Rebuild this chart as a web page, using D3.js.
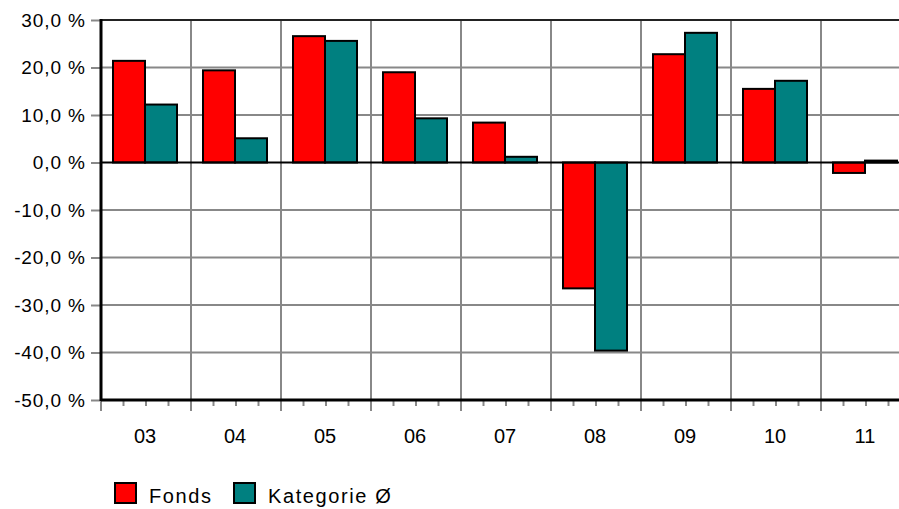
<!DOCTYPE html>
<html>
<head>
<meta charset="utf-8">
<script src="https://cdn.jsdelivr.net/npm/d3@7"></script>
<style>
html,body{margin:0;padding:0;background:#fff;}
svg{display:block;}
text{font-family:"Liberation Sans",Arial,sans-serif;fill:#000;}
</style>
</head>
<body>
<svg id="chart" width="899" height="509"></svg>
<script>
const categories = ["03","04","05","06","07","08","09","10","11"];
const fonds = [21.4, 19.4, 26.6, 19.0, 8.4, -26.5, 22.8, 15.5, -2.2];
const kategorie = [12.2, 5.1, 25.6, 9.3, 1.2, -39.6, 27.3, 17.2, 0.4];
const seriesNames = ["Fonds", "Kategorie Ø"];
const seriesColors = ["#ff0000", "#008080"];
const yTicks = [-50, -40, -30, -20, -10, 0, 10, 20, 30];

(function () {
const svg = d3.select("#chart");
const left = 101, plotTop = 20, bottom = 400, bandW = 90;

const x = d3.scaleBand().domain(categories).range([left, left + bandW * categories.length]).padding(0);
const xs = d3.scaleBand().domain(seriesNames).range([12, 76]).padding(0);
const y = d3.scaleLinear().domain([-50, 30]).range([bottom, plotTop]);
const fmt = v => v.toFixed(1).replace(".", ",") + " %";

// horizontal gridlines
svg.append("g").selectAll("line").data(yTicks.filter(v => v !== 0 && v !== -50 && v !== 30)).join("line")
  .attr("x1", left).attr("x2", 899).attr("y1", d => y(d)).attr("y2", d => y(d))
  .attr("stroke", "#888").attr("stroke-width", 2);
// vertical gridlines
svg.append("g").selectAll("line").data(categories.slice(1)).join("line")
  .attr("x1", d => x(d)).attr("x2", d => x(d)).attr("y1", plotTop).attr("y2", bottom)
  .attr("stroke", "#888").attr("stroke-width", 2);
// top border
svg.append("line").attr("x1", left).attr("x2", 899).attr("y1", y(30)).attr("y2", y(30))
  .attr("stroke", "#222").attr("stroke-width", 2);

// y axis
const yAxis = d3.axisLeft(y).tickValues(yTicks).tickFormat(fmt).tickSize(10).tickPadding(6);
const gy = svg.append("g").attr("transform", `translate(${left},0)`).call(yAxis);
gy.select(".domain").remove();
gy.selectAll(".tick line").attr("stroke", "#888").attr("stroke-width", 2);
gy.selectAll(".tick text").attr("font-size", 19).attr("letter-spacing", 0.9).attr("dx", 0.9)
  .attr("font-family", "Liberation Sans, Arial, sans-serif").attr("fill", "#000");

// bars
const data = categories.map((c, i) => ({c, vals: [fonds[i], kategorie[i]]}));
const groups = svg.append("g").selectAll("g").data(data).join("g")
  .attr("transform", d => `translate(${x(d.c)},0)`);
groups.selectAll("rect").data(d => d.vals.map((v, j) => ({v, s: seriesNames[j], j}))).join("rect")
  .attr("x", d => xs(d.s)).attr("width", xs.bandwidth())
  .attr("y", d => y(Math.max(0, d.v))).attr("height", d => Math.abs(y(d.v) - y(0)))
  .attr("fill", d => seriesColors[d.j]).attr("stroke", "#000").attr("stroke-width", 2);

// zero line
svg.append("line").attr("x1", left).attr("x2", 899).attr("y1", y(0)).attr("y2", y(0))
  .attr("stroke", "#000").attr("stroke-width", 2);

// x axis ticks (major at boundaries, minor at quarters)
const tickData = [];
categories.forEach(c => { for (let k = 0; k < 4; k++) tickData.push({pos: x(c) + k * bandW / 4, major: k === 0}); });
tickData.push({pos: x.range()[1], major: true});
svg.append("g").selectAll("line").data(tickData).join("line")
  .attr("x1", d => d.pos).attr("x2", d => d.pos)
  .attr("y1", bottom).attr("y2", d => d.major ? bottom + 11 : bottom + 6)
  .attr("stroke", "#888").attr("stroke-width", 2);

// axes lines
svg.append("line").attr("x1", left).attr("x2", 899).attr("y1", bottom).attr("y2", bottom)
  .attr("stroke", "#000").attr("stroke-width", 3);
svg.append("line").attr("x1", left).attr("x2", left).attr("y1", plotTop - 1).attr("y2", bottom + 1)
  .attr("stroke", "#000").attr("stroke-width", 3);

// x labels
svg.append("g").selectAll("text").data(categories).join("text")
  .attr("x", d => x(d) + bandW / 2 - 1).attr("y", 443)
  .attr("text-anchor", "middle").attr("font-size", 20).text(d => d);

// legend
const legendX = [115, 234];
const lg = svg.append("g").selectAll("g").data(seriesNames).join("g")
  .attr("transform", (d, i) => `translate(${legendX[i]},483)`);
lg.append("rect").attr("width", 21).attr("height", 20)
  .attr("fill", (d, i) => seriesColors[i]).attr("stroke", "#000").attr("stroke-width", 2);
lg.append("text").attr("x", 34).attr("y", 19.5).attr("font-size", 20).attr("letter-spacing", 1.6).text(d => d);
})();
</script>
</body>
</html>
